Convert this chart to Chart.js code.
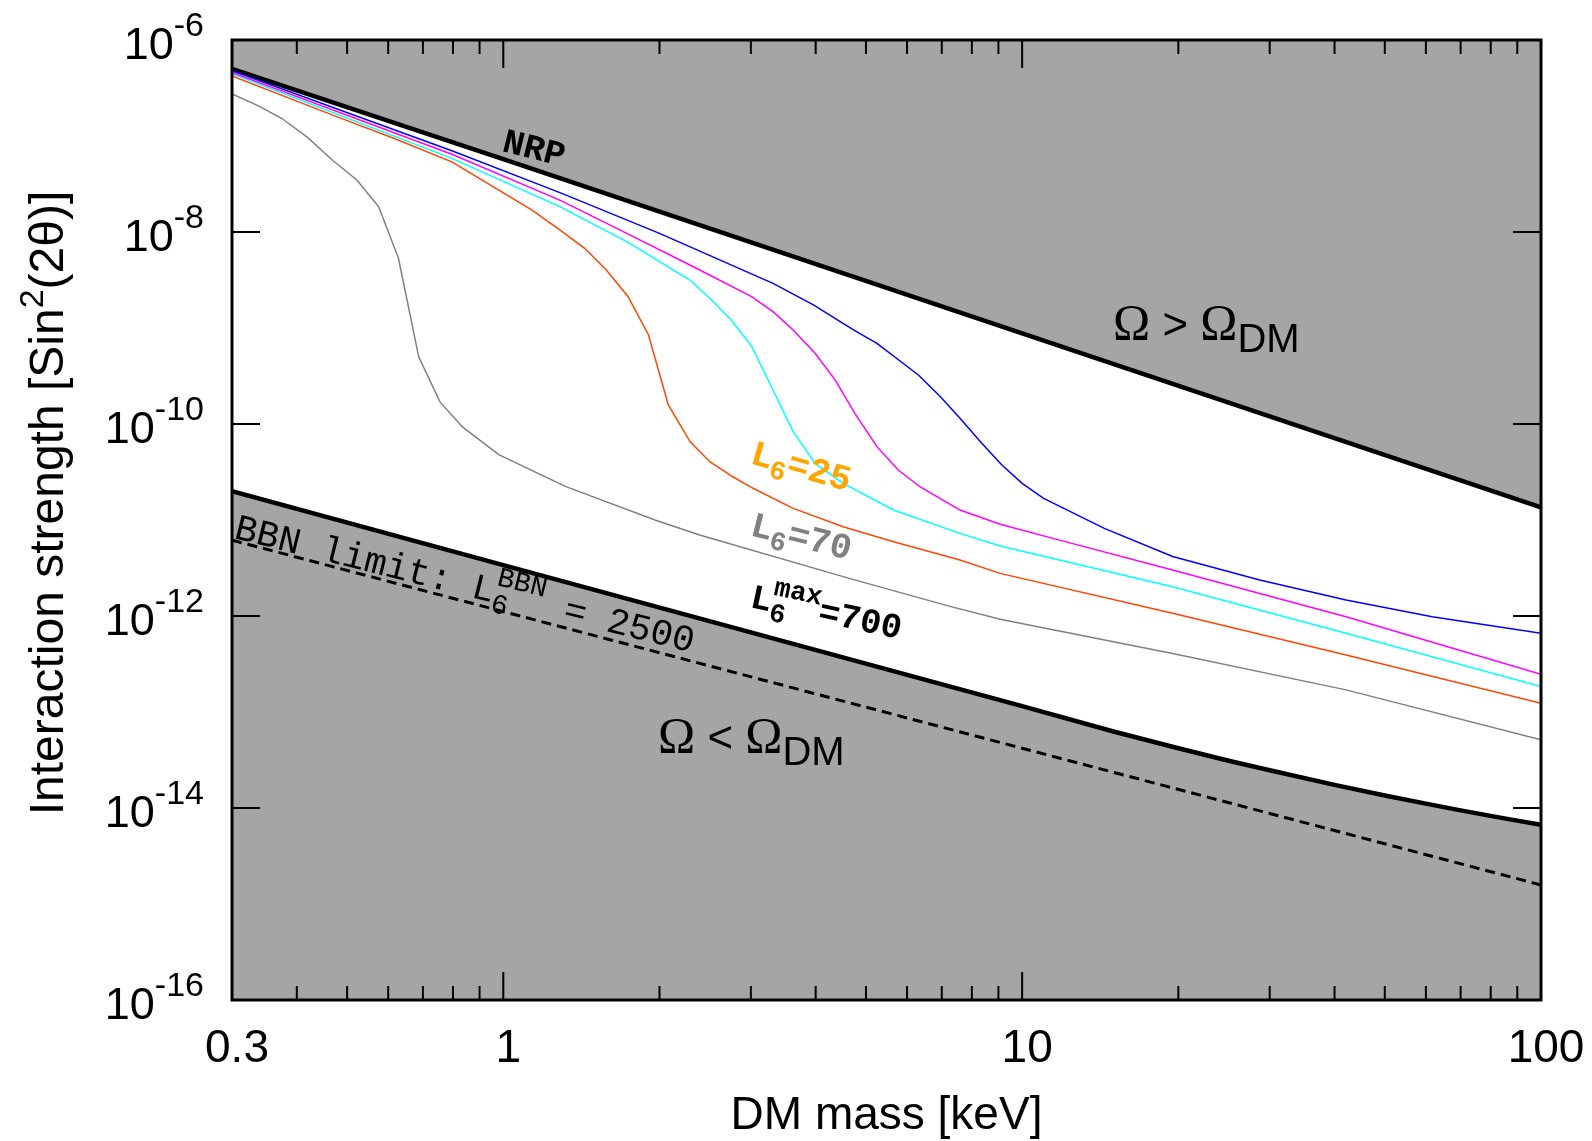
<!DOCTYPE html>
<html>
<head>
<meta charset="utf-8">
<script src="https://cdn.jsdelivr.net/npm/chart.js@4.4.0/dist/chart.umd.min.js"></script>
<style>
  body { margin: 0; background: #fff; }
  #wrap { width: 1592px; height: 1141px; }
</style>
</head>
<body>
<div id="wrap"><canvas id="myChart"></canvas></div>
<script>
  // DM mass [keV] and sin^2(2 theta)
  const nrpX = [0.3, 1, 10, 100];
  const nrpY = [5.0e-7, 5.75e-8, 8.81e-10, 1.35e-11];

  const maxX = [0.3, 1, 3, 10, 15, 20, 25, 30, 40, 50, 60, 70, 85, 100];
  const maxY = [2.0e-11, 3.39e-12, 6.76e-13, 1.15e-13, 6.27e-14, 4.19e-14, 3.11e-14, 2.47e-14, 1.74e-14, 1.35e-14, 1.11e-14, 9.44e-15, 7.80e-15, 6.68e-15];

  const bbnX = [0.3, 100];
  const bbnY = [6.17e-12, 1.58e-15];

  const blueX = [0.3, 0.796, 1.3, 2.0, 3.31, 3.96, 4.73, 5.25, 6.31, 6.95, 7.59, 8.36, 9.14, 10.0, 11.0, 14.4, 19.5, 28.7, 42.1, 61.7, 100];
  const blueY = [4.79e-7, 7.03e-8, 2.51e-8, 9.68e-9, 2.92e-9, 1.74e-9, 9.55e-10, 6.92e-10, 3.24e-10, 1.93e-10, 1.15e-10, 6.31e-11, 3.74e-11, 2.41e-11, 1.68e-11, 8.18e-12, 4.17e-12, 2.37e-12, 1.47e-12, 9.84e-13, 6.61e-13];

  const magentaX = [0.3, 0.796, 1.285, 1.73, 2.32, 3.01, 3.31, 3.62, 3.99, 4.36, 4.76, 5.25, 5.77, 6.35, 7.59, 9.07, 11.8, 19.5, 42.1, 100];
  const magentaY = [4.60e-7, 6.46e-8, 2.15e-8, 9.68e-9, 4.37e-9, 2.12e-9, 1.48e-9, 9.55e-10, 5.45e-10, 2.88e-10, 1.29e-10, 5.81e-11, 3.32e-11, 2.22e-11, 1.27e-11, 9.02e-12, 6.17e-12, 3.02e-12, 9.84e-13, 2.47e-13];

  const cyanX = [0.3, 0.796, 1.285, 1.73, 2.29, 2.50, 2.75, 3.01, 3.31, 3.62, 3.99, 4.52, 5.65, 7.59, 9.07, 19.5, 42.1, 100];
  const cyanY = [4.46e-7, 5.85e-8, 1.84e-8, 7.94e-9, 3.16e-9, 2.04e-9, 1.21e-9, 6.46e-10, 2.26e-10, 8.32e-11, 3.89e-11, 2.41e-11, 1.27e-11, 7.26e-12, 5.37e-12, 2.02e-12, 6.61e-13, 1.84e-13];

  const orangeX = [0.3, 0.468, 0.62, 0.796, 1.136, 1.285, 1.435, 1.58, 1.74, 1.905, 2.08, 2.29, 2.50, 2.77, 3.03, 3.62, 4.52, 5.65, 7.59, 9.07, 19.5, 42.1, 100];
  const orangeY = [4.22e-7, 1.66e-7, 9.3e-8, 5.37e-8, 1.69e-8, 1.05e-8, 6.76e-9, 4.02e-9, 2.12e-9, 8.45e-10, 1.58e-10, 6.55e-11, 4.05e-11, 2.82e-11, 2.14e-11, 1.32e-11, 8.51e-12, 5.94e-12, 3.83e-12, 2.78e-12, 1.07e-12, 3.93e-13, 1.23e-13];

  const grayX = [0.3, 0.335, 0.374, 0.42, 0.468, 0.522, 0.575, 0.628, 0.687, 0.755, 0.834, 0.98, 1.317, 1.96, 2.39, 4.66, 7.26, 9.07, 19.5, 42.1, 100];
  const grayY = [2.74e-7, 2.1e-7, 1.53e-7, 9.6e-8, 5.62e-8, 3.48e-8, 1.84e-8, 5.32e-9, 5.01e-10, 1.70e-10, 9.33e-11, 4.79e-11, 2.24e-11, 1.0e-11, 6.98e-12, 2.45e-12, 1.26e-12, 9.23e-13, 4.07e-13, 1.70e-13, 5.13e-14];

  // axis ticks
  const xLabelValues = [0.3, 1, 10, 100];
  const xLabels = ['0.3', '1', '10', '100'];
  const xMajorTicks = [1, 10];
  const xMinorTicks = [0.4, 0.5, 0.6, 0.7, 0.8, 0.9, 2, 3, 4, 5, 6, 7, 8, 9, 20, 30, 40, 50, 60, 70, 80, 90];
  const yTickValues = [1e-6, 1e-8, 1e-10, 1e-12, 1e-14, 1e-16];
  const yTickExps = ['-6', '-8', '-10', '-12', '-14', '-16'];

  const pts = (xs, ys) => xs.map((x, i) => ({x: x, y: ys[i]}));
  const SHADE = '#a5a5a5';
  const SANS = 'Liberation Sans';
  const MONO = 'Liberation Mono';
  const SERIF = 'Liberation Serif';

  function partsWidth(ctx, parts) {
    let w = 0;
    parts.forEach(p => {
      ctx.font = p.font;
      if (!p.hold) w += ctx.measureText(p.t).width;
    });
    return w;
  }

  function richText(ctx, x, y, angle, parts, align) {
    ctx.save();
    ctx.translate(x, y);
    ctx.rotate(angle * Math.PI / 180);
    ctx.textAlign = 'left';
    ctx.textBaseline = 'alphabetic';
    let cx = 0;
    const total = partsWidth(ctx, parts);
    if (align === 'center') cx = -total / 2;
    if (align === 'right') cx = -total;
    parts.forEach(p => {
      ctx.font = p.font;
      ctx.fillStyle = p.color || '#000';
      ctx.fillText(p.t, cx, p.dy || 0);
      if (!p.hold) cx += ctx.measureText(p.t).width;
    });
    ctx.restore();
  }

  const decor = {
    id: 'decor',
    afterDatasetsDraw(chart) {
      const {ctx, chartArea: a, scales: {x, y}} = chart;
      ctx.save();
      ctx.strokeStyle = '#000';
      ctx.lineWidth = 2;
      ctx.beginPath();
      xMajorTicks.forEach(v => {
        const px = x.getPixelForValue(v);
        ctx.moveTo(px, a.bottom); ctx.lineTo(px, a.bottom - 28);
        ctx.moveTo(px, a.top); ctx.lineTo(px, a.top + 28);
      });
      xMinorTicks.forEach(v => {
        const px = x.getPixelForValue(v);
        ctx.moveTo(px, a.bottom); ctx.lineTo(px, a.bottom - 14);
        ctx.moveTo(px, a.top); ctx.lineTo(px, a.top + 14);
      });
      yTickValues.forEach(v => {
        const py = y.getPixelForValue(v);
        ctx.moveTo(a.left, py); ctx.lineTo(a.left + 28, py);
        ctx.moveTo(a.right, py); ctx.lineTo(a.right - 28, py);
      });
      ctx.stroke();
      ctx.lineWidth = 3;
      ctx.strokeRect(a.left, a.top, a.right - a.left, a.bottom - a.top);

      // tick labels
      xLabelValues.forEach((v, i) => {
        richText(ctx, x.getPixelForValue(v) + 5, a.bottom + 62, 0,
          [{t: xLabels[i], font: '46px ' + SANS}], 'center');
      });
      yTickValues.forEach((v, i) => {
        richText(ctx, 204, y.getPixelForValue(v) + 19, 0, [
          {t: '10', font: '45px ' + SANS},
          {t: yTickExps[i], font: '34px ' + SANS, dy: -23}
        ], 'right');
      });

      // axis titles
      richText(ctx, (a.left + a.right) / 2, 1129, 0,
        [{t: 'DM mass [keV]', font: '46px ' + SANS}], 'center');
      richText(ctx, 63, 503, -90, [
        {t: 'Interaction strength [Sin', font: '48px ' + SANS},
        {t: '2', font: '34px ' + SANS, dy: -20},
        {t: '(2\u03b8)]', font: '48px ' + SANS}
      ], 'center');

      // annotations
      richText(ctx, 501, 151, 14, [{t: 'NRP', font: 'bold 35px ' + MONO}]);
      richText(ctx, 749, 463, 16, [
        {t: 'L', font: 'bold 36px ' + MONO, color: '#ffa500'},
        {t: '6', font: 'bold 27px ' + MONO, color: '#ffa500', dy: 8},
        {t: '=25', font: 'bold 36px ' + MONO, color: '#ffa500'}
      ]);
      richText(ctx, 749, 535, 14, [
        {t: 'L', font: 'bold 36px ' + MONO, color: '#808080'},
        {t: '6', font: 'bold 27px ' + MONO, color: '#808080', dy: 8},
        {t: '=70', font: 'bold 36px ' + MONO, color: '#808080'}
      ]);
      richText(ctx, 749, 607, 12, [
        {t: 'L', font: 'bold 35px ' + MONO},
        {t: '6', font: 'bold 27px ' + MONO, dy: 9, hold: true},
        {t: 'max', font: 'bold 27px ' + MONO, dy: -17},
        {t: '=700', font: 'bold 35px ' + MONO}
      ]);
      richText(ctx, 233, 538, 14, [
        {t: 'BBN limit: L', font: '37px ' + MONO},
        {t: '6', font: '28px ' + MONO, dy: 9, hold: true},
        {t: 'BBN', font: '28px ' + MONO, dy: -18},
        {t: ' = 2500', font: '37px ' + MONO}
      ]);
      richText(ctx, 1113, 339, 0, [
        {t: '\u03a9', font: '50px ' + SERIF},
        {t: ' > ', font: '44px ' + SANS},
        {t: '\u03a9', font: '50px ' + SERIF},
        {t: 'DM', font: '40px ' + SANS, dy: 13}
      ]);
      richText(ctx, 658, 752, 0, [
        {t: '\u03a9', font: '50px ' + SERIF},
        {t: ' < ', font: '44px ' + SANS},
        {t: '\u03a9', font: '50px ' + SERIF},
        {t: 'DM', font: '40px ' + SANS, dy: 13}
      ]);
      ctx.restore();
    }
  };

  const thin = (label, xs, ys, color) => ({
    label: label,
    data: pts(xs, ys),
    borderColor: color,
    borderWidth: 1.5,
    pointRadius: 0,
    tension: 0,
    fill: false
  });

  const data = {
    datasets: [
      thin('blue', blueX, blueY, '#0000ff'),
      thin('magenta', magentaX, magentaY, '#ff00ff'),
      thin('cyan', cyanX, cyanY, '#00ffff'),
      thin('L6=25', orangeX, orangeY, '#ff4500'),
      thin('L6=70', grayX, grayY, '#808080'),
      {
        label: 'BBN',
        data: pts(bbnX, bbnY),
        borderColor: '#000',
        borderWidth: 3,
        borderDash: [10, 6],
        pointRadius: 0,
        tension: 0,
        fill: false
      },
      {
        label: 'L6max',
        data: pts(maxX, maxY),
        borderColor: '#000',
        borderWidth: 4.5,
        pointRadius: 0,
        tension: 0,
        fill: 'start',
        backgroundColor: SHADE
      },
      {
        label: 'NRP',
        data: pts(nrpX, nrpY),
        borderColor: '#000',
        borderWidth: 4.5,
        pointRadius: 0,
        tension: 0,
        fill: 'end',
        backgroundColor: SHADE
      }
    ]
  };

  const config = {
    type: 'line',
    data: data,
    options: {
      responsive: true,
      maintainAspectRatio: false,
      animation: false,
      devicePixelRatio: 1,
      layout: {
        padding: {left: 232, right: 51, top: 40, bottom: 141}
      },
      scales: {
        x: {
          type: 'logarithmic',
          min: 0.3,
          max: 100,
          display: false
        },
        y: {
          type: 'logarithmic',
          min: 1e-16,
          max: 1e-6,
          display: false
        }
      },
      plugins: {
        legend: {display: false},
        tooltip: {enabled: false},
        filler: {drawTime: 'beforeDatasetsDraw'}
      }
    },
    plugins: [decor]
  };

  const myChart = new Chart(
    document.getElementById('myChart'),
    config
  );
</script>
</body>
</html>
